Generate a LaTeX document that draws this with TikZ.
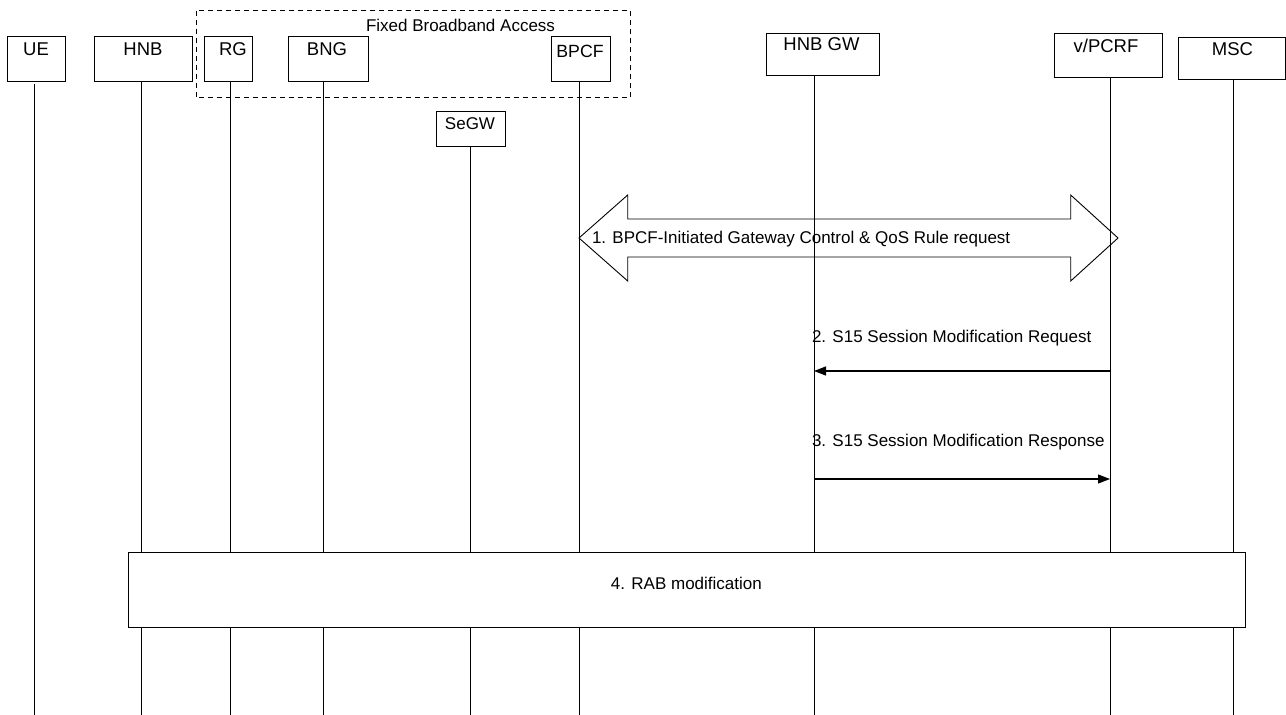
\documentclass[tikz,border=0pt]{standalone}
\usepackage{fontspec}
\setmainfont{Liberation Sans}
\usetikzlibrary{arrows.meta}
\begin{document}
\begin{tikzpicture}[x=1pt,y=-1pt,
  every node/.style={font=\fontsize{17}{20}\selectfont, inner sep=0pt, outer sep=0pt},
  entity/.style={draw, line width=0.9pt, fill=white},
  lifeline/.style={line width=0.8pt},
  msg/.style={line width=1.2pt, -{Triangle[length=12pt,width=9pt]}},
  lbl/.style={anchor=base},
  boxlbl/.style={anchor=base, font=\fontsize{18.5}{22}\selectfont},
  msglbl/.style={anchor=base west},
  grp/.style={line width=0.8pt, dash pattern=on 5pt off 4pt},
  blockarrow/.style={line width=0.9pt}]
\useasboundingbox (0,0) rectangle (1286,715);

% lifeline bottom coordinates
\coordinate (ueX) at (34,715);
\coordinate (hnbX) at (141,715);
\coordinate (rgX) at (230,715);
\coordinate (bngX) at (323,715);
\coordinate (segwX) at (470,715);
\coordinate (bpcfX) at (579,715);
\coordinate (hnbgwX) at (814,715);
\coordinate (pcrfX) at (1110,715);
\coordinate (mscX) at (1233,715);

% entity boxes
\node[entity, minimum width=58pt, minimum height=45pt] (ue) at (36,58.5) {};
\node[entity, minimum width=98pt, minimum height=45pt] (hnb) at (143,58.5) {};
\node[entity, minimum width=48pt, minimum height=45pt] (rg) at (228,58.5) {};
\node[entity, minimum width=80pt, minimum height=45pt] (bng) at (328,58.5) {};
\node[entity, minimum width=59pt, minimum height=45pt] (bpcf) at (581,58.5) {};
\node[entity, minimum width=69pt, minimum height=35pt] (segw) at (470.5,128.5) {};
\node[entity, minimum width=113pt, minimum height=42.5pt] (hnbgw) at (823.3,54.3) {};
\node[entity, minimum width=108pt, minimum height=44pt] (pcrf) at (1108,55) {};
\node[entity, minimum width=107pt, minimum height=42pt] (msc) at (1232,58) {};

% lifelines
\draw[lifeline] ([yshift=-3pt]ue.south -| ueX) -- (ueX);
\draw[lifeline] (hnb.south -| hnbX) -- (hnbX);
\draw[lifeline] (rg.south -| rgX) -- (rgX);
\draw[lifeline] (bng.south -| bngX) -- (bngX);
\draw[lifeline] (segw.south -| segwX) -- (segwX);
\draw[lifeline] (bpcf.south -| bpcfX) -- (bpcfX);
\draw[lifeline] (hnbgw.south -| hnbgwX) -- (hnbgwX);
\draw[lifeline] (pcrf.south -| pcrfX) -- (pcrfX);
\draw[lifeline] (msc.south -| mscX) -- (mscX);

% fixed broadband access group
\draw[grp] (196,10.5) rectangle (630.5,97.7);
\node[lbl] (fba) at (460.5,31) {Fixed Broadband Access};

% entity labels
\node[boxlbl] (ue-t) at (36,55) {UE};
\node[boxlbl] (hnb-t) at (143,55) {HNB};
\node[boxlbl] (rg-t) at (233,55) {RG};
\node[boxlbl] (bng-t) at (327,55) {BNG};
\node[boxlbl, font=\fontsize{17.7}{21}\selectfont] (bpcf-t) at (580,57) {BPCF};
\node[lbl] (segw-t) at (470,129) {SeGW};
\node[boxlbl] (hnbgw-t) at (821.5,50) {HNB GW};
\node[boxlbl] (pcrf-t) at (1106,52.5) {v/PCRF};
\node[boxlbl] (msc-t) at (1232.5,55) {MSC};

% step 1: double block arrow
\draw[blockarrow] (579,238) -- (627.7,195) -- (627.7,219) -- (1070.7,219) -- (1070.7,195)
  -- (1118,238) -- (1070.7,281) -- (1070.7,257) -- (627.7,257) -- (627.7,281) -- cycle;
\node[msglbl] (l1) at (592,243.3) {1. BPCF-Initiated Gateway Control \& QoS Rule request};

% step 2
\coordinate (m2) at (0,371);
\draw[msg] (pcrfX |- m2) -- (hnbgwX |- m2);
\node[msglbl] (l2) at (812,342.7) {2. S15 Session Modification Request};

% step 3
\coordinate (m3) at (0,479);
\draw[msg] (hnbgwX |- m3) -- (pcrfX |- m3);
\node[msglbl] (l3) at (812,446) {3. S15 Session Modification Response};

% step 4
\node[entity, minimum width=1117pt, minimum height=74.6pt] (rab) at (686.5,590) {};
\node[lbl] (rab-t) at (686.4,589) {4. RAB modification};
\end{tikzpicture}
\end{document}
